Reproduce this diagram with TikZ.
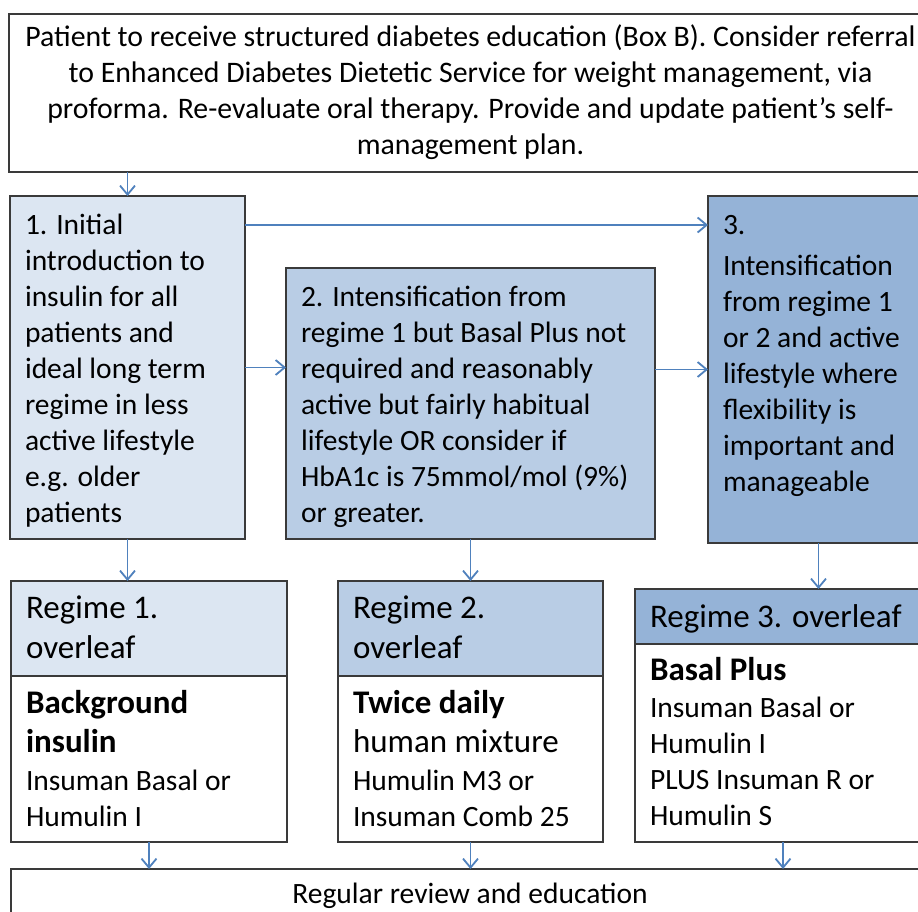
\documentclass[tikz,border=0pt]{standalone}
\usepackage{fontspec}
\setmainfont{Carlito}
\usetikzlibrary{arrows.meta}

\definecolor{edgegray}{HTML}{3A3A3A}
\definecolor{arrowblue}{HTML}{4F81BD}
\definecolor{paleblue}{HTML}{DCE6F2}
\definecolor{midblue}{HTML}{B9CDE5}
\definecolor{deepblue}{HTML}{95B3D7}

\newcommand{\bodyfont}{\fontsize{29.5}{36}\selectfont}
\newcommand{\headfont}{\fontsize{33}{40}\selectfont}
\newcommand{\boldhead}{\fontsize{33}{39}\selectfont\bfseries}

\tikzset{
  box/.style={draw=edgegray, line width=1.3pt, inner sep=0pt, outer sep=0pt,
              anchor=north west},
  txt/.style={anchor=base west, inner sep=0pt, outer sep=0pt, text=black},
  ctxt/.style={anchor=base, inner sep=0pt, outer sep=0pt, text=black},
  arr/.style={draw=arrowblue, line width=1.8pt,
              -{Straight Barb[length=9pt,width=15pt,line width=1.8pt]}},
}

\begin{document}
\begin{tikzpicture}[x=1pt, y=-1pt]
\useasboundingbox (0,0) rectangle (918,912);
\fill[white] (0,0) rectangle (918,912);
\clip (0,0) rectangle (918,912);

% boxes
\node[box, fill=white, minimum width=923pt, minimum height=158pt] (top) at (9,14) {};
\node[box, fill=paleblue, minimum width=235pt, minimum height=343pt] (b1) at (10,196) {};
\node[box, fill=midblue, minimum width=369pt, minimum height=271pt] (b2) at (286,268) {};
\node[box, fill=deepblue, minimum width=223pt, minimum height=347pt] (b3) at (708,196) {};

\node[box, fill=paleblue, minimum width=276pt, minimum height=95pt] (r1h) at (11,581) {};
\node[box, fill=white, minimum width=276pt, minimum height=166pt] (r1b) at (11,676) {};
\node[box, fill=midblue, minimum width=265pt, minimum height=95pt] (r2h) at (338,581) {};
\node[box, fill=white, minimum width=265pt, minimum height=166pt] (r2b) at (338,676) {};
\node[box, fill=deepblue, minimum width=296pt, minimum height=55pt] (r3h) at (635,589) {};
\node[box, fill=white, minimum width=296pt, minimum height=198pt] (r3b) at (635,644) {};

\node[box, fill=white, minimum width=920pt, minimum height=80pt] (bot) at (11,869) {};

% texts
\node[ctxt] (ttop) at (470.5,47) {\parbox[t]{930pt}{\centering\fontsize{29.8}{35.7}\selectfont
  Patient to receive structured diabetes education (Box B). Consider referral\\
  to Enhanced Diabetes Dietetic Service for weight management, via\\
  proforma. Re-evaluate oral therapy. Provide and update patient’s self-\\
  management plan.}};

\node[txt] (t1) at (25,234) {\parbox[t]{220pt}{\raggedright\bodyfont
  1. Initial\\ introduction to\\ insulin for all\\ patients and\\ ideal long term\\
  regime in less\\ active lifestyle\\ e.g. older\\ patients}};

\node[txt] (t2) at (301,306) {\parbox[t]{360pt}{\raggedright\bodyfont
  2. Intensification from\\ regime 1 but Basal Plus not\\ required and reasonably\\
  active but fairly habitual\\ lifestyle OR consider if\\ HbA1c is 75mmol/mol (9\%)\\
  or greater.}};

\node[txt] (t3) at (723,234) {\parbox[t]{220pt}{\raggedright\bodyfont
  3.\\[5pt] Intensification\\ from regime 1\\ or 2 and active\\ lifestyle where\\
  flexibility is\\ important and\\ manageable}};

\node[txt] (h1) at (26,618) {\parbox[t]{260pt}{\raggedright\headfont Regime 1.\\ overleaf}};
\node[txt] (h2) at (353,618) {\parbox[t]{250pt}{\raggedright\headfont Regime 2.\\ overleaf}};
\node[txt] (h3) at (650,627) {\headfont Regime 3. overleaf};

\node[txt] (k1) at (26,713) {\parbox[t]{260pt}{\raggedright\boldhead Background\\ insulin}};
\node[txt] (d1) at (26,790) {\parbox[t]{260pt}{\raggedright\bodyfont Insuman Basal or\\ Humulin I}};

\node[txt] (k2) at (353,713) {\boldhead Twice daily};
\node[txt] (m2) at (353,752) {\headfont human mixture};
\node[txt] (d2) at (353,790) {\parbox[t]{250pt}{\raggedright\bodyfont Humulin M3 or\\ Insuman Comb 25}};

\node[txt] (k3) at (650,680) {\boldhead Basal Plus};
\node[txt] (d3) at (650,717) {\parbox[t]{280pt}{\raggedright\bodyfont Insuman Basal or\\
  Humulin I\\ PLUS Insuman R or\\ Humulin S}};

\node[ctxt] (tbot) at (470,903) {\bodyfont Regular review and education};

% connectors
\draw[arr] (b1.north |- top.south) -- (b1.north);
\draw[arr] ([yshift=-29pt]b1.north east) -- ([yshift=-29pt]b3.north west);
\draw[arr] (b1.east) -- (b1.east -| b2.west);
\draw[arr] (b2.east |- b3.west) -- (b3.west);
\draw[arr] (b1.south) -- (b1.south |- r1h.north);
\draw[arr] (b2.south) -- (r2h.north);
\draw[arr] ([xshift=-1pt]b3.south) -- ([xshift=-1pt]b3.south |- r3h.north);
\draw[arr] (r1b.south) -- (r1b.south |- bot.north);
\draw[arr] (r2b.south) -- (r2b.south |- bot.north);
\draw[arr] (r3b.south) -- (r3b.south |- bot.north);
\end{tikzpicture}
\end{document}
